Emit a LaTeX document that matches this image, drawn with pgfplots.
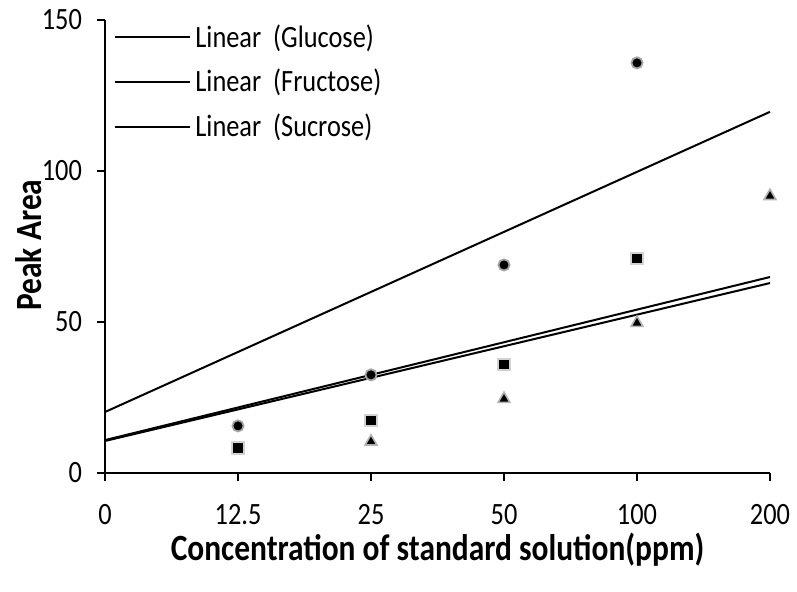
\documentclass[border=0pt]{standalone}
\usepackage{pgfplots}
\pgfplotsset{compat=1.18}
\usepackage{fontspec}
\setmainfont{Carlito}[FakeStretch=0.85]
\begin{document}
\begin{tikzpicture}
\begin{axis}[
  scale only axis,
  width=332.5pt, height=226.5pt,
  xmin=0, xmax=5, ymin=0, ymax=150,
  axis x line*=bottom, axis y line*=left,
  axis line style={line width=0.9pt},
  xtick={0,1,2,3,4,5},
  xticklabels={0,12.5,25,50,100,200},
  ytick={0,50,100,150},
  tick style={line width=0.9pt, black},
  tick align=outside,
  major tick length=4pt,
  /pgf/number format/assume math mode=true,
  ticklabel style={font=\fontsize{15.5}{18}\selectfont},
  xticklabel style={yshift=-8pt},
  yticklabel style={xshift=-4pt},
  xlabel={\textbf{Concentration of standard solution(ppm)}},
  ylabel={\textbf{Peak Area}},
  label style={font=\fontsize{18.5}{22}\selectfont},
  xlabel style={at={(rel axis cs:0.5,-0.17)}, anchor=center},
  ylabel style={at={(rel axis cs:-0.115,0.503)}, anchor=center},
  legend style={at={(rel axis cs:0,1)}, anchor=north west, draw=none, fill=none,
    font=\fontsize{15.5}{18}\selectfont, row sep=5.5pt, inner xsep=4.5pt, inner ysep=0pt},
  legend cell align=left,
  legend image code/.code={\draw[line width=1pt] (0pt,0pt) -- (37.5pt,0pt);},
  clip=false,
]
% measured peak areas
\addplot[only marks, mark=*, mark size=2.8pt, fill=black, draw=gray!70, line width=0.9pt, forget plot]
  coordinates {(1,15.6) (2,32.5) (3,68.9) (4,135.8)};
\addplot[only marks, mark=square*, mark size=2.8pt, fill=black, draw=gray!35, line width=1pt, forget plot]
  coordinates {(1,8.3) (2,17.3) (3,36.0) (4,70.9)};
\addplot[only marks, mark=triangle*, mark size=3.4pt, fill=black, draw=gray!60, line width=0.8pt, forget plot]
  coordinates {(2,10.4) (3,24.5) (4,49.7) (5,91.7)};
% linear trend lines
\addplot[black, line width=1pt] coordinates {(0,20.2) (5,119.6)};
\addlegendentry{Linear~ (Glucose)}
\addplot[black, line width=1pt] coordinates {(0,10.9) (5,64.9)};
\addlegendentry{Linear~ (Fructose)}
\addplot[black, line width=1pt] coordinates {(0,10.6) (5,62.9)};
\addlegendentry{Linear~ (Sucrose)}
\coordinate (o) at (rel axis cs:0,0);
\end{axis}
\pgfresetboundingbox
\path[use as bounding box] (o) ++(-52.5pt,-59pt) rectangle ++(398.5pt,295.5pt);
\end{tikzpicture}
\end{document}
